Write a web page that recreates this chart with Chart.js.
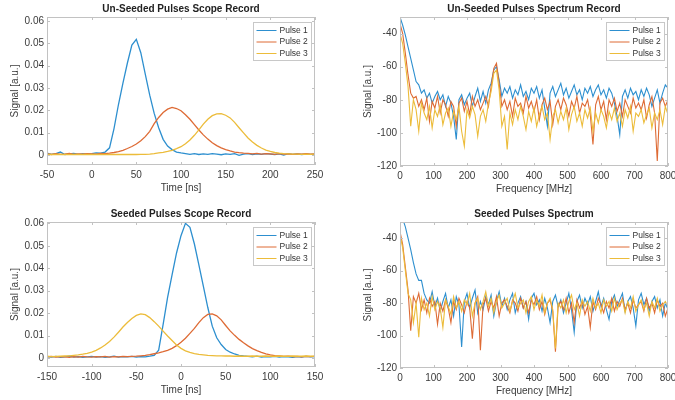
<!DOCTYPE html>
<html>
<head>
<meta charset="utf-8">
<script src="https://cdn.jsdelivr.net/npm/chart.js@4.4.1/dist/chart.umd.min.js"></script>
<style>
  html, body { margin: 0; padding: 0; background: #fff; }
  #page { position: relative; width: 675px; height: 400px; overflow: hidden; background: #fff; }
  canvas { position: absolute; }
</style>
</head>
<body>
<div id="page">
  <canvas id="tl" width="337" height="200" style="left:0;top:0"></canvas>
  <canvas id="tr" width="329" height="201" style="left:353px;top:0"></canvas>
  <canvas id="bl" width="337" height="197" style="left:0;top:205px"></canvas>
  <canvas id="br" width="329" height="198" style="left:353px;top:205px"></canvas>
</div>
<script>
const pulseLabels = ['Pulse 1', 'Pulse 2', 'Pulse 3'];
const pulseColors = ['#2d8fcf', '#de6b35', '#ecbc3a'];

// time axis [ns]
const timeUnseeded = [-50,-45,-40,-35,-30,-25,-20,-15,-10,-5,
  0,5,10,15,20,25,30,35,40,45,
  50,55,60,65,70,75,80,85,90,95,
  100,105,110,115,120,125,130,135,140,145,
  150,155,160,165,170,175,180,185,190,195,
  200,205,210,215,220,225,230,235,240,245,
  250];
const timeSeeded = [-150,-145,-140,-135,-130,-125,-120,-115,-110,-105,
  -100,-95,-90,-85,-80,-75,-70,-65,-60,-55,
  -50,-45,-40,-35,-30,-25,-20,-15,-10,-5,
  0,5,10,15,20,25,30,35,40,45,
  50,55,60,65,70,75,80,85,90,95,
  100,105,110,115,120,125,130,135,140,145,
  150];

// un-seeded scope record
const unseededScope1 = [0.0008,0.0003,0.0006,0.0013,0.0002,0.0005,0.0007,0.0003,0.0006,0.0004,
  0.0006,0.0009,0.0008,0.0013,0.0032,0.0118,0.0226,0.0322,0.0412,0.0492,
  0.0518,0.0458,0.0362,0.0268,0.0186,0.0122,0.0070,0.0040,0.0024,0.0013,
  0.0009,0.0006,0.0003,0.0006,0.0002,0.0005,0.0003,0.0006,0.0004,0.0001,
  0.0005,0.0003,0.0006,-0.0002,0.0004,0.0006,0.0002,0.0005,0.0003,0.0006,
  0.0004,0.0002,0.0005,-0.0001,0.0006,0.0003,0.0005,0.0002,0.0004,0.0003,
  0.0004];
const unseededScope2 = [0.0005,0.0002,0.0006,0.0003,0.0004,0.0007,0.0003,0.0005,0.0004,0.0006,
  0.0005,0.0004,0.0007,0.0006,0.0008,0.0011,0.0015,0.0021,0.0029,0.0038,
  0.0049,0.0064,0.0082,0.0106,0.0140,0.0168,0.0190,0.0205,0.0213,0.0208,
  0.0198,0.0180,0.0160,0.0136,0.0112,0.0090,0.0071,0.0055,0.0042,0.0032,
  0.0024,0.0018,0.0013,0.0010,0.0008,0.0007,0.0005,0.0007,0.0004,0.0006,
  0.0005,0.0003,0.0006,0.0004,0.0005,0.0003,0.0005,0.0004,0.0006,0.0004,
  0.0005];
const unseededScope3 = [0.0003,0.0002,0.0002,0.0003,0.0002,0.0002,0.0003,0.0002,0.0002,0.0003,
  0.0002,0.0002,0.0003,0.0002,0.0002,0.0003,0.0002,0.0002,0.0003,0.0002,
  0.0002,0.0003,0.0003,0.0004,0.0006,0.0009,0.0012,0.0016,0.0021,0.0028,
  0.0037,0.0050,0.0067,0.0088,0.0112,0.0138,0.0160,0.0176,0.0184,0.0185,
  0.0178,0.0166,0.0146,0.0122,0.0099,0.0076,0.0058,0.0043,0.0031,0.0022,
  0.0016,0.0011,0.0008,0.0006,0.0005,0.0004,0.0004,0.0003,0.0004,0.0003,
  0.0004];

// seeded scope record
const seededScope1 = [0.0006,0.0004,0.0007,0.0003,0.0005,0.0008,0.0004,0.0006,0.0003,0.0005,
  0.0007,0.0004,0.0006,0.0003,0.0005,0.0008,0.0004,0.0006,0.0005,0.0007,
  0.0004,0.0006,0.0005,0.0008,0.0012,0.0035,0.0150,0.0270,0.0370,0.0468,
  0.0545,0.0600,0.0582,0.0508,0.0415,0.0320,0.0225,0.0142,0.0090,0.0060,
  0.0038,0.0026,0.0018,0.0012,0.0009,0.0007,0.0005,0.0008,0.0004,0.0006,
  0.0005,0.0007,0.0004,0.0006,0.0005,0.0003,0.0006,0.0004,0.0007,0.0005,
  0.0006];
const seededScope2 = [0.0005,0.0007,0.0004,0.0006,0.0005,0.0003,0.0006,0.0004,0.0007,0.0005,
  0.0004,0.0006,0.0005,0.0007,0.0004,0.0006,0.0005,0.0007,0.0006,0.0007,
  0.0008,0.0010,0.0012,0.0015,0.0019,0.0023,0.0028,0.0034,0.0043,0.0055,
  0.0070,0.0088,0.0110,0.0132,0.0158,0.0180,0.0194,0.0197,0.0188,0.0170,
  0.0145,0.0121,0.0101,0.0083,0.0068,0.0054,0.0042,0.0033,0.0025,0.0019,
  0.0014,0.0011,0.0009,0.0007,0.0008,0.0006,0.0007,0.0005,0.0007,0.0006,
  0.0007];
const seededScope3 = [0.0008,0.0006,0.0007,0.0008,0.0009,0.0010,0.0012,0.0014,0.0017,0.0021,
  0.0026,0.0034,0.0045,0.0058,0.0074,0.0093,0.0115,0.0138,0.0158,0.0176,
  0.0190,0.0197,0.0193,0.0180,0.0162,0.0142,0.0120,0.0098,0.0078,0.0058,
  0.0043,0.0032,0.0025,0.0020,0.0016,0.0014,0.0012,0.0011,0.0010,0.0010,
  0.0009,0.0009,0.0008,0.0009,0.0008,0.0008,0.0009,0.0008,0.0008,0.0009,
  0.0008,0.0008,0.0009,0.0008,0.0008,0.0009,0.0008,0.0008,0.0009,0.0008,
  0.0008];

// frequency axis [MHz]
const freqMHz = [0,8,16,24,32,40,48,56,64,72,
  80,88,96,104,112,120,128,136,144,152,
  160,168,176,184,192,200,208,216,224,232,
  240,248,256,264,272,280,288,296,304,312,
  320,328,336,344,352,360,368,376,384,392,
  400,408,416,424,432,440,448,456,464,472,
  480,488,496,504,512,520,528,536,544,552,
  560,568,576,584,592,600,608,616,624,632,
  640,648,656,664,672,680,688,696,704,712,
  720,728,736,744,752,760,768,776,784,792,
  800];

// un-seeded spectrum record
const unseededSpec1 = [-30,-35,-41,-48,-55,-62,-69,-71,-76,-74,
  -79,-76,-82,-78,-75,-80,-77,-84,-78,-82,
  -90,-104,-80,-77,-83,-79,-76,-84,-78,-73,
  -81,-75,-82,-74,-70,-62,-60,-68,-78,-73,
  -76,-72,-79,-74,-77,-71,-78,-75,-80,-73,
  -76,-72,-79,-74,-85,-96,-76,-72,-78,-74,
  -70,-77,-73,-79,-75,-71,-77,-74,-80,-73,
  -76,-72,-78,-74,-71,-77,-74,-79,-73,-76,
  -82,-90,-101,-78,-74,-79,-73,-77,-75,-80,
  -74,-78,-73,-77,-84,-79,-74,-82,-76,-71,
  -73];
const unseededSpec2 = [-34,-40,-52,-65,-76,-79,-78,-84,-80,-86,
  -79,-93,-81,-85,-78,-88,-80,-83,-90,-81,
  -84,-96,-82,-79,-87,-81,-89,-78,-84,-80,
  -86,-82,-78,-84,-72,-61,-58,-70,-84,-80,
  -86,-81,-90,-79,-84,-82,-88,-78,-85,-81,
  -87,-80,-92,-83,-79,-86,-81,-95,-84,-80,
  -86,-79,-83,-90,-81,-85,-78,-88,-82,-84,
  -80,-89,-107,-83,-78,-86,-81,-92,-80,-84,
  -79,-87,-82,-90,-80,-84,-88,-79,-85,-82,
  -86,-80,-91,-83,-78,-88,-117,-82,-79,-84,
  -80];
const unseededSpec3 = [-40,-46,-58,-72,-96,-80,-86,-99,-82,-88,
  -92,-84,-97,-86,-90,-83,-95,-88,-85,-96,
  -87,-92,-84,-99,-108,-86,-91,-84,-89,-102,
  -90,-86,-93,-82,-75,-64,-62,-74,-96,-90,
  -110,-88,-95,-86,-92,-84,-90,-98,-87,-93,
  -85,-96,-89,-84,-92,-88,-104,-90,-86,-94,
  -87,-92,-85,-98,-89,-84,-93,-88,-96,-86,
  -91,-85,-99,-88,-94,-86,-90,-97,-87,-92,
  -85,-93,-88,-96,-86,-91,-84,-99,-88,-90,
  -86,-94,-89,-85,-97,-88,-92,-86,-95,-84,
  -89];

// seeded spectrum
const seededSpec1 = [-24,-28,-33,-40,-47,-55,-62,-66,-66,-74,
  -78,-80,-73,-82,-77,-85,-79,-74,-83,-78,
  -88,-76,-81,-107,-79,-74,-83,-77,-72,-86,
  -79,-84,-76,-81,-75,-88,-79,-73,-82,-77,
  -84,-78,-74,-86,-80,-76,-83,-79,-90,-77,
  -74,-81,-78,-85,-77,-83,-92,-79,-75,-82,
  -78,-86,-80,-74,-84,-98,-79,-75,-83,-77,
  -81,-76,-85,-79,-73,-82,-77,-84,-90,-79,
  -75,-82,-78,-74,-85,-79,-76,-83,-94,-78,
  -74,-81,-77,-85,-79,-76,-83,-78,-88,-80,
  -84];
const seededSpec2 = [-36,-44,-58,-72,-97,-76,-80,-74,-84,-78,
  -86,-77,-82,-79,-93,-80,-85,-78,-83,-92,
  -79,-84,-77,-81,-86,-79,-83,-102,-80,-76,
  -109,-81,-77,-85,-79,-83,-76,-88,-80,-78,
  -82,-86,-78,-80,-85,-77,-83,-79,-86,-78,
  -81,-76,-84,-79,-87,-80,-78,-85,-110,-82,
  -79,-84,-77,-86,-80,-92,-78,-83,-79,-87,
  -82,-95,-79,-84,-77,-81,-86,-79,-83,-77,
  -85,-79,-82,-77,-84,-80,-86,-78,-83,-81,
  -79,-85,-77,-83,-80,-86,-78,-82,-80,-88,
  -83];
const seededSpec3 = [-38,-46,-60,-74,-78,-92,-80,-101,-77,-84,
  -80,-88,-76,-84,-79,-83,-95,-78,-82,-87,
  -76,-83,-79,-85,-78,-81,-74,-88,-80,-77,
  -84,-79,-73,-82,-77,-86,-79,-75,-83,-80,
  -77,-85,-79,-74,-83,-80,-78,-86,-79,-76,
  -84,-78,-82,-75,-86,-80,-77,-84,-108,-80,
  -83,-78,-86,-79,-75,-84,-80,-88,-78,-82,
  -79,-85,-77,-83,-80,-86,-78,-82,-79,-85,
  -77,-84,-80,-78,-86,-79,-83,-76,-85,-81,
  -78,-84,-80,-88,-79,-83,-77,-85,-81,-79,
  -82];

// tick values
const timeTicksUnseeded = [-50, 0, 50, 100, 150, 200, 250];
const timeTicksSeeded = [-150, -100, -50, 0, 50, 100, 150];
const scopeTicks = [0, 0.01, 0.02, 0.03, 0.04, 0.05, 0.06];
const freqTicks = [0, 100, 200, 300, 400, 500, 600, 700, 800];
const specTicks = [-120, -100, -80, -60, -40];

Chart.defaults.font.family = '"Liberation Sans", Arial, sans-serif';
Chart.defaults.color = '#3a3a3a';

const textColor = '#3a3a3a';
const frameColor = '#c2c2c2';

// axes box, inward tick marks, title and legend, drawn the MATLAB way
const matlabAxes = {
  id: 'matlabAxes',
  afterDraw(chart, args, opts) {
    const {ctx, chartArea: a, scales} = chart;
    ctx.save();
    ctx.strokeStyle = frameColor;
    ctx.lineWidth = 1;
    ctx.strokeRect(Math.round(a.left) + 0.5, Math.round(a.top) + 0.5, Math.round(a.width) - 1, Math.round(a.height) - 1);
    ctx.beginPath();
    scales.x.ticks.forEach(t => {
      const px = Math.round(scales.x.getPixelForValue(t.value)) + 0.5;
      ctx.moveTo(px, a.bottom); ctx.lineTo(px, a.bottom - 3);
      ctx.moveTo(px, a.top); ctx.lineTo(px, a.top + 3);
    });
    scales.y.ticks.forEach(t => {
      const py = Math.round(scales.y.getPixelForValue(t.value)) + 0.5;
      ctx.moveTo(a.left, py); ctx.lineTo(a.left + 3, py);
      ctx.moveTo(a.right, py); ctx.lineTo(a.right - 3, py);
    });
    ctx.stroke();

    // title
    ctx.fillStyle = '#222';
    ctx.font = 'bold 10px "Liberation Sans", Arial, sans-serif';
    ctx.textAlign = 'center';
    ctx.textBaseline = 'middle';
    ctx.fillText(opts.title, (a.left + a.right) / 2, a.top - 8);

    // legend
    const ds = chart.data.datasets;
    ctx.font = '8.5px "Liberation Sans", Arial, sans-serif';
    const tw = Math.max(...ds.map(d => ctx.measureText(d.label).width));
    const bw = Math.round(3 + 20 + 3 + tw + 4);
    const bh = 38;
    const bx = Math.round(a.right - 4 - bw) + 0.5;
    const by = Math.round(a.top + 5) + 0.5;
    ctx.fillStyle = '#fff';
    ctx.fillRect(bx, by, bw, bh);
    ctx.strokeStyle = '#c8c8c8';
    ctx.strokeRect(bx, by, bw, bh);
    ctx.textAlign = 'left';
    ds.forEach((d, i) => {
      const y = by + 8 + i * 11.5;
      ctx.strokeStyle = d.borderColor;
      ctx.lineWidth = 1;
      ctx.beginPath();
      ctx.moveTo(bx + 3, y); ctx.lineTo(bx + 23, y);
      ctx.stroke();
      ctx.fillStyle = '#333';
      ctx.fillText(d.label, bx + 26, y);
    });
    ctx.restore();
  }
};

function makeChart(id, xs, series, xRange, xTicks, yRange, yTicks, title, xLabel, rightPad, lineW) {
  const datasets = series.map((ys, i) => ({
    label: pulseLabels[i],
    data: xs.map((x, j) => ({x: x, y: ys[j]})),
    borderColor: pulseColors[i],
    borderWidth: lineW,
    pointRadius: 0,
    tension: 0,
    fill: false,
    order: series.length - i
  }));
  return new Chart(document.getElementById(id), {
    type: 'line',
    data: {datasets: datasets},
    plugins: [matlabAxes],
    options: {
      responsive: false,
      animation: false,
      devicePixelRatio: 1,
      layout: {padding: {top: 17, right: rightPad, left: 0, bottom: 0}},
      plugins: {
        legend: {display: false},
        tooltip: {enabled: false},
        matlabAxes: {title: title}
      },
      scales: {
        x: {
          type: 'linear',
          min: xRange[0], max: xRange[1],
          afterBuildTicks: s => { s.ticks = xTicks.map(v => ({value: v})); },
          afterFit: s => { s.height = 35; },
          grid: {display: false, drawTicks: false},
          border: {display: false},
          ticks: {font: {size: 10}, color: textColor, padding: 4, maxRotation: 0, autoSkip: false},
          title: {display: true, text: xLabel, font: {size: 10}, color: textColor, padding: {top: 0, bottom: 6}}
        },
        y: {
          type: 'linear',
          min: yRange[0], max: yRange[1],
          afterBuildTicks: s => { s.ticks = yTicks.map(v => ({value: v})); },
          afterFit: s => { s.width = 47; },
          grid: {display: false, drawTicks: false},
          border: {display: false},
          ticks: {font: {size: 10}, color: textColor, padding: 3, autoSkip: false},
          title: {display: true, text: 'Signal [a.u.]', font: {size: 10}, color: textColor, padding: {top: 9, bottom: 0}}
        }
      }
    }
  });
}

makeChart('tl', timeUnseeded, [unseededScope1, unseededScope2, unseededScope3],
  [-50, 250], timeTicksUnseeded, [-0.0045, 0.0618], scopeTicks,
  'Un-Seeded Pulses Scope Record', 'Time [ns]', 22, 1.3);
makeChart('tr', freqMHz, [unseededSpec1, unseededSpec2, unseededSpec3],
  [0, 800], freqTicks, [-120, -30], specTicks,
  'Un-Seeded Pulses Spectrum Record', 'Frequency [MHz]', 14, 1.1);
makeChart('bl', timeSeeded, [seededScope1, seededScope2, seededScope3],
  [-150, 150], timeTicksSeeded, [-0.004, 0.0606], scopeTicks,
  'Seeded Pulses Scope Record', 'Time [ns]', 22, 1.3);
makeChart('br', freqMHz, [seededSpec1, seededSpec2, seededSpec3],
  [0, 800], freqTicks, [-120, -30], specTicks,
  'Seeded Pulses Spectrum', 'Frequency [MHz]', 14, 1.1);
</script>
</body>
</html>
